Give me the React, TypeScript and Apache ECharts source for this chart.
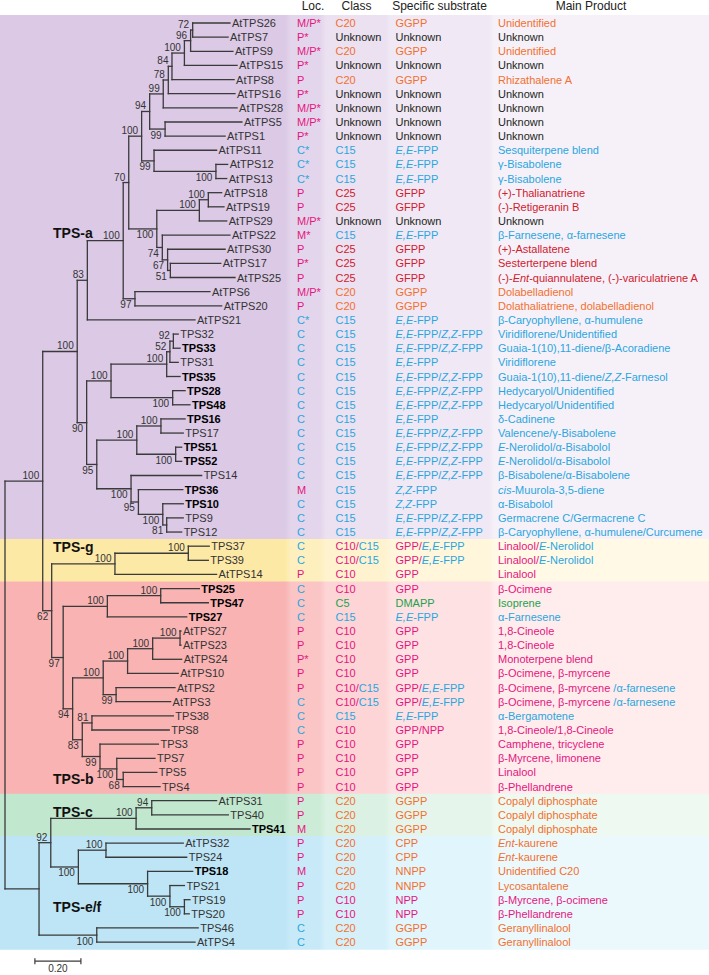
import React, { useEffect, useRef } from "react";
import * as echarts from "echarts";

// ---------------- data ----------------
const leafNames = [
  "AtTPS26","AtTPS7","AtTPS9","AtTPS15","AtTPS8","AtTPS16","AtTPS28","AtTPS5","AtTPS1",
  "AtTPS11","AtTPS12","AtTPS13",
  "AtTPS18","AtTPS19","AtTPS29","AtTPS22","AtTPS30","AtTPS17","AtTPS25","AtTPS6","AtTPS20","AtTPS21",
  "TPS32","TPS33","TPS31","TPS35","TPS28","TPS48","TPS16","TPS17","TPS51","TPS52","TPS14","TPS36","TPS10","TPS9","TPS12",
  "TPS37","TPS39","AtTPS14",
  "TPS25","TPS47","TPS27","AtTPS27","AtTPS23","AtTPS24","AtTPS10","AtTPS2","AtTPS3","TPS38","TPS8","TPS3","TPS7","TPS5","TPS4",
  "AtTPS31","TPS40","TPS41",
  "AtTPS32","TPS24","TPS18","TPS21","TPS19","TPS20","TPS46","AtTPS4",
];

const boldLeaves = ["TPS33","TPS35","TPS28","TPS48","TPS16","TPS51","TPS52","TPS36","TPS10","TPS25","TPS47","TPS27","TPS41","TPS18"];

// tip depth (substitutions per site, measured from the root)
const tipDepth = [
  0.978, 0.970, 0.991, 1.009, 0.996, 1.000, 1.009, 1.030, 0.957,
  0.920, 0.968, 0.964,
  0.942, 0.952, 0.964, 0.978, 0.957, 0.938, 1.000, 0.891, 0.942, 0.826,
  0.753, 0.761, 0.753, 0.761, 0.783, 0.804, 0.783, 0.775, 0.768, 0.768, 0.855, 0.773, 0.775, 0.775, 0.768,
  0.888, 0.884, 0.920,
  0.845, 0.884, 0.790, 0.765, 0.765, 0.768, 0.753, 0.739, 0.720, 0.732, 0.714, 0.667, 0.652, 0.660, 0.674,
  0.920, 0.971, 1.065,
  0.775, 0.790, 0.816, 0.780, 0.804, 0.801, 0.840, 0.826,
];

// internal nodes: [id, children, depth, bootstrap, label side (a = above, b = below)]
const internalNodes: [string, (string | number)[], number, number | null, string][] = [
  ["A1", [0, 1], 0.816, 72, "a"],
  ["A2", ["A1", 2], 0.807, 96, "a"],
  ["A3", ["A2", 3], 0.780, 100, "a"],
  ["A4", ["A3", 4], 0.726, 84, "a"],
  ["A5", ["A4", 5], 0.710, 78, "a"],
  ["A6", ["A5", 6], 0.688, 99, "a"],
  ["A7", [7, 8], 0.696, 99, "b"],
  ["A8", ["A6", "A7"], 0.629, 94, "a"],
  ["A9", [10, 11], 0.917, 100, "b"],
  ["A10", [9, "A9"], 0.648, 99, "b"],
  ["A11", ["A8", "A10"], 0.594, 100, "a"],
  ["B1", [12, 13], 0.884, 100, "a"],
  ["B2", ["B1", 14], 0.845, 100, "a"],
  ["B5", [17, 18], 0.719, 51, "b"],
  ["B4", [16, "B5"], 0.707, 67, "b"],
  ["B3", [15, "B4"], 0.684, 74, "b"],
  ["B", ["B2", "B3"], 0.660, 100, "b"],
  ["A12", ["A11", "B"], 0.538, 70, "a"],
  ["C", [19, 20], 0.565, 97, "b"],
  ["D", ["A12", "C"], 0.514, 100, "a"],
  ["E", ["D", 21], 0.358, 83, "a"],
  ["G1", [22, 23], 0.732, 92, "a"],
  ["G2", ["G1", 24], 0.717, 52, "a"],
  ["G3", ["G2", 25], 0.703, 100, "a"],
  ["G4", [26, 27], 0.729, 100, "b"],
  ["G5", ["G3", "G4"], 0.461, 100, "a"],
  ["G6", [28, 29], 0.678, 100, "a"],
  ["G7", [30, 31], 0.742, 100, "b"],
  ["G8", ["G6", "G7"], 0.573, 100, "a"],
  ["G9", [35, 36], 0.703, 81, "b"],
  ["G10", [34, "G9"], 0.686, 100, "b"],
  ["G11", [33, "G10"], 0.580, 95, "b"],
  ["G12", [32, "G11"], 0.548, 100, "b"],
  ["G13", ["G8", "G12"], 0.399, 95, "b"],
  ["G14", ["G5", "G13"], 0.355, 90, "b"],
  ["F", ["E", "G14"], 0.314, 100, "a"],
  ["g1", [37, 38], 0.797, 100, "a"],
  ["g2", ["g1", 39], 0.478, 100, "a"],
  ["b1", [40, 41], 0.677, 100, "a"],
  ["b2", ["b1", 42], 0.445, 100, "a"],
  ["b3", [43, 44], 0.761, 100, "a"],
  ["b4", ["b3", 45], 0.642, 100, "a"],
  ["b5", ["b4", 46], 0.533, 100, "a"],
  ["b6", [47, 48], 0.483, 99, "b"],
  ["b7", ["b5", "b6"], 0.427, 100, "a"],
  ["b8", [49, 50], 0.378, 81, "a"],
  ["b9", [53, 54], 0.514, 68, "b"],
  ["b10", [52, "b9"], 0.486, 100, "b"],
  ["b11", [51, "b10"], 0.413, 99, "b"],
  ["b12", ["b8", "b11"], 0.336, 83, "b"],
  ["b13", ["b7", "b12"], 0.294, 94, "b"],
  ["b14", ["b2", "b13"], 0.253, 97, "b"],
  ["I", ["g2", "b14"], 0.203, 62, "b"],
  ["J", ["F", "I"], 0.164, 100, "a"],
  ["c1", [55, 56], 0.638, 94, "a"],
  ["c2", ["c1", 57], 0.570, 100, "a"],
  ["e1", [58, 59], 0.439, 100, "a"],
  ["e2", [62, 63], 0.780, 100, "b"],
  ["e3", [61, "e2"], 0.717, 100, "b"],
  ["e4", [60, "e3"], 0.620, 100, "b"],
  ["e5", ["e1", "e4"], 0.319, 100, "b"],
  ["K", ["c2", "e5"], 0.199, 92, "a"],
  ["e6", [64, 65], 0.399, 100, "b"],
  ["L", ["K", "e6"], 0.148, null, "a"],
  ["root", ["J", "L"], 0, null, "a"],
];

const locations = [
  "M/P*","P*","M/P*","P*","P","P*","M/P*","M/P*","P*",
  "C*","C*","C*",
  "P","P","M/P*","M*","P","P*","P","M/P*","P","C*",
  "C","C","C","C","C","C","C","C","C","C","C","M","C","C","C",
  "C","C","P",
  "C","C","C","P","P","P*","P","P","C","C","C","P","P","P","P",
  "P","P","M",
  "P","P","M","P","P","P","C","C",
];

const classes = [
  "C20","Unknown","C20","Unknown","C20","Unknown","Unknown","Unknown","Unknown",
  "C15","C15","C15",
  "C25","C25","Unknown","C15","C25","C25","C25","C20","C20","C15",
  "C15","C15","C15","C15","C15","C15","C15","C15","C15","C15","C15","C15","C15","C15","C15",
  "C10/C15","C10/C15","C10",
  "C10","C5","C15","C10","C10","C10","C10","C10/C15","C10/C15","C15","C10","C10","C10","C10","C10",
  "C20","C20","C20",
  "C20","C20","C20","C20","C10","C10","C20","C20",
];

const substrates = [
  "GGPP","Unknown","GGPP","Unknown","GGPP","Unknown","Unknown","Unknown","Unknown",
  "E,E-FPP","E,E-FPP","E,E-FPP",
  "GFPP","GFPP","Unknown","E,E-FPP","GFPP","GFPP","GFPP","GGPP","GGPP","E,E-FPP",
  "E,E-FPP/Z,Z-FPP","E,E-FPP/Z,Z-FPP","E,E-FPP","E,E-FPP/Z,Z-FPP","E,E-FPP/Z,Z-FPP","E,E-FPP/Z,Z-FPP","E,E-FPP",
  "E,E-FPP/Z,Z-FPP","E,E-FPP/Z,Z-FPP","E,E-FPP/Z,Z-FPP","E,E-FPP/Z,Z-FPP","Z,Z-FPP","Z,Z-FPP","E,E-FPP/Z,Z-FPP","E,E-FPP/Z,Z-FPP",
  "GPP/E,E-FPP","GPP/E,E-FPP","GPP",
  "GPP","DMAPP","E,E-FPP","GPP","GPP","GPP","GPP","GPP/E,E-FPP","GPP/E,E-FPP","E,E-FPP","GPP/NPP","GPP","GPP","GPP","GPP",
  "GGPP","GGPP","GGPP",
  "CPP","CPP","NNPP","NNPP","NPP","NPP","GGPP","GGPP",
];

const products = [
  "{o|Unidentified}","{k|Unknown}","{o|Unidentified}","{k|Unknown}","{o|Rhizathalene A}",
  "{k|Unknown}","{k|Unknown}","{k|Unknown}","{k|Unknown}",
  "{b|Sesquiterpene blend}","{b|γ-Bisabolene}","{b|γ-Bisabolene}",
  "{r|(+)-Thalianatriene}","{r|(-)-Retigeranin B}","{k|Unknown}","{b|β-Farnesene, α-farnesene}",
  "{r|(+)-Astallatene}","{r|Sesterterpene blend}","{r|(-)-}{ri|Ent}{r|-quiannulatene, (-)-variculatriene A}",
  "{o|Dolabelladienol}","{o|Dolathaliatriene, dolabelladienol}","{b|β-Caryophyllene, α-humulene}",
  "{b|Viridiflorene/Unidentified}","{b|Guaia-1(10),11-diene/β-Acoradiene}","{b|Viridiflorene}",
  "{b|Guaia-1(10),11-diene/}{bi|Z,Z}{b|-Farnesol}","{b|Hedycaryol/Unidentified}","{b|Hedycaryol/Unidentified}",
  "{b|δ-Cadinene}","{b|Valencene/γ-Bisabolene}","{bi|E}{b|-Nerolidol/α-Bisabolol}","{bi|E}{b|-Nerolidol/α-Bisabolol}",
  "{b|β-Bisabolene/α-Bisabolene}","{bi|cis}{b|-Muurola-3,5-diene}","{b|α-Bisabolol}","{b|Germacrene C/Germacrene C}",
  "{b|β-Caryophyllene, α-humulene/Curcumene}",
  "{p|Linalool/}{bi|E}{b|-Nerolidol}","{p|Linalool/}{bi|E}{b|-Nerolidol}","{p|Linalool}",
  "{p|β-Ocimene}","{g|Isoprene}","{b|α-Farnesene}","{p|1,8-Cineole}","{p|1,8-Cineole}","{p|Monoterpene blend}",
  "{p|β-Ocimene, β-myrcene}","{p|β-Ocimene, β-myrcene }{b|/α-farnesene}","{p|β-Ocimene, β-myrcene }{b|/α-farnesene}",
  "{b|α-Bergamotene}","{p|1,8-Cineole/1,8-Cineole}","{p|Camphene, tricyclene}","{p|β-Myrcene, limonene}",
  "{p|Linalool}","{p|β-Phellandrene}",
  "{o|Copalyl diphosphate}","{o|Copalyl diphosphate}","{o|Copalyl diphosphate}",
  "{oi|Ent}{o|-kaurene}","{oi|Ent}{o|-kaurene}","{o|Unidentified C20}","{o|Lycosantalene}",
  "{p|β-Myrcene, β-ocimene}","{p|β-Phellandrene}","{o|Geranyllinalool}","{o|Geranyllinalool}",
];

const cladeNames = ["TPS-a", "TPS-g", "TPS-b", "TPS-c", "TPS-e/f"];
const cladeFirstRow = [0, 37, 40, 55, 58];
const cladeLastRow = [36, 39, 54, 57, 65];
const headers = ["Loc.", "Class", "Specific substrate", "Main Product"];
const scaleBarValue = 0.2;
const scaleBarLabel = "0.20";

// ---------------- styles / layout ----------------
const W = 709;
const H = 975;
const FONT = "'Liberation Sans', Arial, Helvetica, sans-serif";
const LINE = "#3a3a3a";
const COLORS: Record<string, string> = {
  p: "#e4167f",
  b: "#2aa6df",
  o: "#f2702f",
  r: "#d0202e",
  g: "#23a24b",
  k: "#231f20",
};
const classColor: Record<string, string> = { C20: "o", C15: "b", C25: "r", C10: "p", C5: "g", Unknown: "k" };
const substrateColor: Record<string, string> = {
  GGPP: "o", GFPP: "r", "E,E-FPP": "b", "Z,Z-FPP": "b", GPP: "p", NPP: "p", NNPP: "o", CPP: "o", DMAPP: "g", Unknown: "k",
};
const columnX = [297, 335.5, 395.5, 498];
const headerX = [313, 356.5, 439.5, 591];
const columnEdges = [288, 323, 388, 492];
const bandColors = [
  ["#dbc9e5", "#e3d5eb", "#ebe1f1", "#f0e9f5", "#f6f1f9"],
  ["#fde9a6", "#feefbf", "#fff3cf", "#fff6db", "#fff9e6"],
  ["#f9b3b3", "#fbc4c5", "#fdd5d6", "#fee1e2", "#ffecec"],
  ["#c2e7cf", "#cdecd8", "#dbf1e3", "#e5f5eb", "#eef9f2"],
  ["#bde5f6", "#c8eaf8", "#d6f0fa", "#e1f5fc", "#ebf9fd"],
];
const cladeLabelRow = [14.87, 37.03, 53.49, 55.77, 62.49];
const cladeLabelX = 53;
const scaleBarStart = 0.13;
const scaleBarRow = 66.35;

const RICH: Record<string, any> = {};
Object.keys(COLORS).forEach((k) => {
  RICH[k] = { fill: COLORS[k], fontSize: 11, fontFamily: FONT };
  RICH[k + "i"] = { fill: COLORS[k], fontSize: 11, fontFamily: FONT, fontStyle: "italic" };
});

function locCell(s: string) {
  return `{${s.startsWith("C") ? "b" : "p"}|${s}}`;
}
function classCell(s: string) {
  const parts = s.split("/");
  return parts.map((p, i) => `{${classColor[p]}|${p}${i < parts.length - 1 ? "/" : ""}}`).join("");
}
function substrateCell(s: string) {
  const parts = s.split("/");
  return parts
    .map((p, i) => {
      const c = substrateColor[p] || "k";
      const slash = i < parts.length - 1 ? "/" : "";
      const m = p.match(/^([EZ],[EZ])(-.*)$/);
      if (m) return `{${c}i|${m[1]}}{${c}|${m[2]}${slash}}`;
      return `{${c}|${p}${slash}}`;
    })
    .join("");
}

type Rec = {
  depth: number; y: number; parent: number; leaf: boolean; top: number; bot: number;
  label: string; bold: boolean; boot: number | null; below: boolean;
};

function buildTree(): Rec[] {
  const pos: Record<string, { depth: number; y: number }> = {};
  const recs: Rec[] = [];
  const idx: Record<string, number> = {};
  leafNames.forEach((n, i) => {
    pos[String(i)] = { depth: tipDepth[i], y: i };
    idx[String(i)] = recs.length;
    recs.push({ depth: tipDepth[i], y: i, parent: tipDepth[i], leaf: true, top: i, bot: i, label: n, bold: boldLeaves.includes(n), boot: null, below: false });
  });
  internalNodes.forEach(([id, kids, depth, boot, side]) => {
    const ys = kids.map((k) => pos[String(k)].y);
    const top = Math.min(...ys);
    const bot = Math.max(...ys);
    const y = (top + bot) / 2;
    pos[id] = { depth, y };
    kids.forEach((k) => { recs[idx[String(k)]].parent = depth; });
    idx[id] = recs.length;
    recs.push({ depth, y, parent: depth, leaf: false, top, bot, label: "", bold: false, boot, below: side === "b" });
  });
  return recs;
}

function gradientStops(colors: string[]) {
  const stops: any[] = [{ offset: 0, color: colors[0] }];
  columnEdges.forEach((e, i) => {
    stops.push({ offset: (e - 3) / W, color: colors[i] });
    stops.push({ offset: (e + 3) / W, color: colors[i + 1] });
  });
  stops.push({ offset: 1, color: colors[colors.length - 1] });
  return stops;
}

export default function App() {
  const ref = useRef<HTMLDivElement>(null);
  useEffect(() => {
    if (!ref.current) return;
    const chart = echarts.init(ref.current, null, { renderer: "svg" });
    const recs = buildTree();
    const tableCells = leafNames.map((_, i) => [
      locCell(locations[i]),
      classCell(classes[i]),
      substrateCell(substrates[i]),
      products[i],
    ]);

    const option: any = {
      animation: false,
      grid: { left: 5, right: 0, top: 23, bottom: H - 942.1 },
      xAxis: { type: "value", min: 0, max: (W - 5) / 230, show: false },
      yAxis: { type: "value", min: 0, max: 65, inverse: true, show: false },
      graphic: headers.map((h, k) => ({
        type: "text",
        x: headerX[k],
        y: 6,
        z: 100,
        style: { text: h, fontSize: 12, fontFamily: FONT, fill: "#222", align: "center", verticalAlign: "middle", textAlign: "center", textVerticalAlign: "middle" },
      })),
      series: [
        {
          type: "custom",
          name: "bands",
          z: 1,
          clip: false,
          silent: true,
          data: cladeFirstRow.map((f, i) => [f, cladeLastRow[i]]),
          renderItem: (params: any, api: any) => {
            const i = params.dataIndex;
            const y0 = api.coord([0, api.value(0) - (i === 0 ? 0.56 : 0.5)])[1];
            const y1 = api.coord([0, api.value(1) + 0.5])[1];
            const w = api.getWidth();
            return {
              type: "group",
              children: [
                {
                  type: "rect",
                  shape: { x: 0, y: y0, width: w, height: y1 - y0 + 0.5 },
                  style: { fill: new echarts.graphic.LinearGradient(0, 0, 1, 0, gradientStops(bandColors[i])) },
                },
                {
                  type: "text",
                  x: cladeLabelX,
                  y: api.coord([0, cladeLabelRow[i]])[1],
                  style: {
                    text: cladeNames[i], fontSize: 14, fontWeight: "bold", fontFamily: FONT, fill: "#111",
                    align: "left", verticalAlign: "middle", textAlign: "left", textVerticalAlign: "middle",
                  },
                },
              ],
            };
          },
        },
        {
          type: "custom",
          name: "tree",
          z: 3,
          clip: false,
          silent: true,
          data: recs.map((r) => [r.depth, r.y]),
          renderItem: (params: any, api: any) => {
            const r = recs[params.dataIndex];
            const p = api.coord([r.depth, r.y]);
            const pp = api.coord([r.parent, r.y]);
            const ls = { stroke: LINE, lineWidth: 1.3, lineCap: "square" };
            const ch: any[] = [];
            if (p[0] - pp[0] > 0.1) {
              ch.push({ type: "line", shape: { x1: pp[0], y1: p[1], x2: p[0], y2: p[1] }, style: ls });
            }
            if (!r.leaf) {
              const yt = api.coord([r.depth, r.top])[1];
              const yb = api.coord([r.depth, r.bot])[1];
              ch.push({ type: "line", shape: { x1: p[0], y1: yt, x2: p[0], y2: yb }, style: ls });
              if (r.boot != null) {
                const va = r.below ? "top" : "bottom";
                ch.push({
                  type: "text",
                  x: p[0] - 3.5,
                  y: r.below ? p[1] + 1 : p[1] - 0.5,
                  style: {
                    text: String(r.boot), fill: "#333", fontSize: 10, fontFamily: FONT,
                    align: "right", verticalAlign: va, textAlign: "right", textVerticalAlign: va,
                  },
                });
              }
            } else {
              ch.push({
                type: "text",
                x: p[0] + 2,
                y: p[1],
                style: {
                  text: r.label, fill: r.bold ? "#000" : "#333", fontSize: 11,
                  fontWeight: r.bold ? "bold" : "normal", fontFamily: FONT,
                  align: "left", verticalAlign: "middle", textAlign: "left", textVerticalAlign: "middle",
                },
              });
            }
            return { type: "group", children: ch };
          },
        },
        {
          type: "custom",
          name: "table",
          z: 3,
          clip: false,
          silent: true,
          data: leafNames.map((_, i) => [0, i]),
          renderItem: (params: any, api: any) => {
            const i = params.dataIndex;
            const y = api.coord([0, api.value(1)])[1];
            return {
              type: "group",
              children: tableCells[i].map((t, k) => ({
                type: "text",
                x: columnX[k],
                y,
                style: {
                  text: t, rich: RICH, fontSize: 11, fontFamily: FONT, fill: "#231f20",
                  align: "left", verticalAlign: "middle", textAlign: "left", textVerticalAlign: "middle",
                },
              })),
            };
          },
        },
        {
          type: "custom",
          name: "scale",
          z: 3,
          clip: false,
          silent: true,
          data: [[scaleBarStart, scaleBarRow]],
          renderItem: (params: any, api: any) => {
            const p0 = api.coord([api.value(0), api.value(1)]);
            const p1 = api.coord([api.value(0) + scaleBarValue, api.value(1)]);
            const ls = { stroke: LINE, lineWidth: 1.2 };
            return {
              type: "group",
              children: [
                { type: "line", shape: { x1: p0[0], y1: p0[1], x2: p1[0], y2: p1[1] }, style: ls },
                { type: "line", shape: { x1: p0[0], y1: p0[1] - 3, x2: p0[0], y2: p0[1] + 3 }, style: ls },
                { type: "line", shape: { x1: p1[0], y1: p1[1] - 3, x2: p1[0], y2: p1[1] + 3 }, style: ls },
                {
                  type: "text",
                  x: (p0[0] + p1[0]) / 2,
                  y: p0[1] + 2.5,
                  style: {
                    text: scaleBarLabel, fill: "#333", fontSize: 10, fontFamily: FONT,
                    align: "center", verticalAlign: "top", textAlign: "center", textVerticalAlign: "top",
                  },
                },
              ],
            };
          },
        },
      ],
    };
    chart.setOption(option);
    return () => chart.dispose();
  }, []);
  return <div ref={ref} style={{ position: "fixed", left: 0, top: 0, width: W, height: H, background: "#fff" }} />;
}
